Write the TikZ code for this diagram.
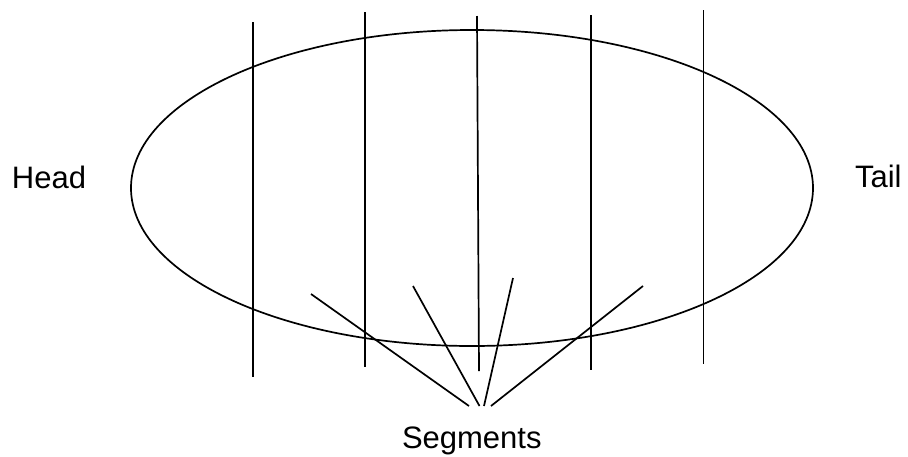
\documentclass[tikz,border=0pt]{standalone}
\usepackage{fontspec}
\setmainfont{Liberation Sans}
\usetikzlibrary{shapes.geometric}
\begin{document}
\begin{tikzpicture}[x=1pt,y=-1pt,
  stroke/.style={line width=1.7pt, black},
  lbl/.style={inner sep=0pt, outer sep=0pt, font=\fontsize{31}{37}\selectfont, anchor=base west}]
\useasboundingbox (0,0) rectangle (908,456);
\node[ellipse, draw, stroke, minimum width=682pt, minimum height=316pt, inner sep=0pt, outer sep=0pt] (body) at (472,188) {};
% vertical segment dividers
\coordinate (v1t) at (253,22);  \coordinate (v1b) at (253,377);
\coordinate (v2t) at (365,12);  \coordinate (v2b) at (365,367);
\coordinate (v3t) at (477,16);  \coordinate (v3b) at (479,371);
\coordinate (v4t) at (591,15);  \coordinate (v4b) at (591,370);
\coordinate (v5t) at (703.5,10);\coordinate (v5b) at (703.5,364);
\foreach \i in {1,...,5} \draw[stroke] (v\i t) -- (v\i b);
% labels
\node[lbl] (head) at (12,188) {Head};
\node[lbl] (tail) at (855,187) {Tail};
\node[lbl] (seg) at (402,448) {Segments};
% pointer lines
\coordinate (pa) at (311,294); \coordinate (ea) at (469,406);
\coordinate (pb) at (413,286); \coordinate (eb) at (479.5,406);
\coordinate (pc) at (513,278); \coordinate (ec) at (484,406);
\coordinate (pd) at (643,286); \coordinate (ed) at (491,406);
\foreach \k in {a,b,c,d} \draw[stroke] (p\k) -- (e\k);
\end{tikzpicture}
\end{document}
